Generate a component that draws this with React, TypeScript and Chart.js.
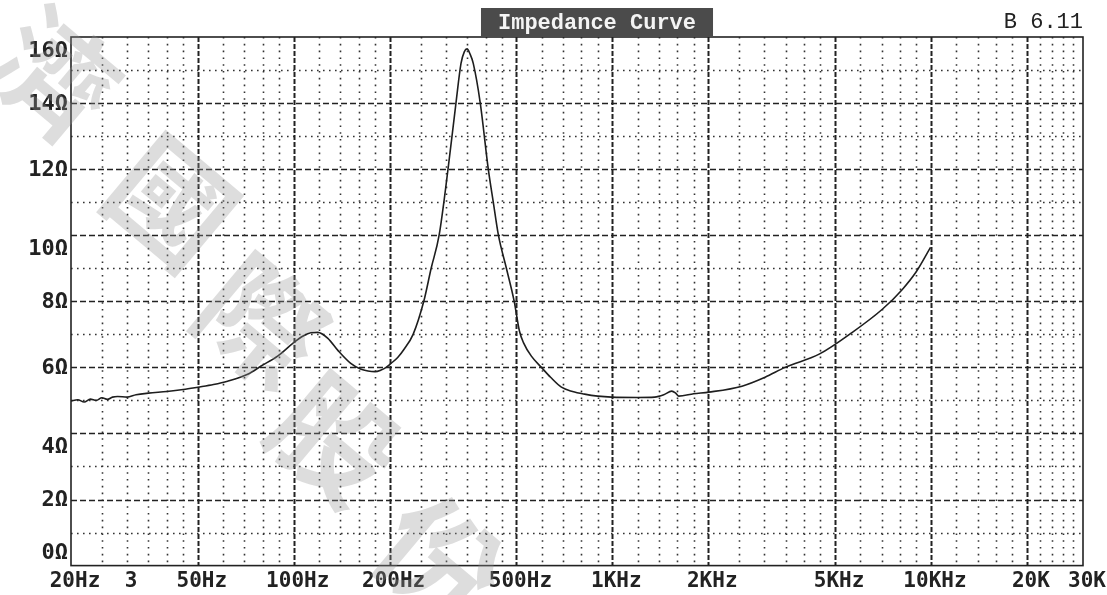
import React, { useEffect, useRef } from "react";
import { Chart, registerables } from "chart.js";
Chart.register(...registerables);

// Measured impedance curve (frequency in Hz, impedance in ohms)
const freqs = [
  20, 21, 22, 23, 24, 25, 26, 27, 28, 30, 32, 35, 40, 45, 50, 56, 62, 72, 79, 89,
  100, 107, 113, 119, 128, 138, 151, 162, 171, 180, 188, 195, 202, 212, 222, 237,
  256, 270, 286, 305, 323, 335, 343, 350, 357, 366, 385, 408, 423, 439, 465, 492,
  511, 526, 557, 599, 640, 692, 750, 818, 900, 994, 1200, 1358, 1450, 1536, 1580,
  1616, 1800, 2009, 2552, 3015, 3485, 4458, 5662, 7036, 8131, 9000, 9966,
];
const impedance = [
  4.98, 5.02, 4.95, 5.04, 5.0, 5.08, 5.03, 5.1, 5.12, 5.1, 5.17, 5.22, 5.27, 5.33, 5.4, 5.48, 5.58, 5.8, 6.04, 6.34,
  6.75, 6.95, 7.05, 7.06, 6.88, 6.5, 6.12, 5.95, 5.89, 5.87, 5.92, 6.0, 6.12, 6.3, 6.55, 7.0,
  8.0, 9.0, 10.0, 12.0, 14.0, 15.2, 15.55, 15.64, 15.5, 15.2, 14.0, 12.0, 11.0, 10.0, 9.0, 8.0,
  7.1, 6.75, 6.34, 6.0, 5.7, 5.4, 5.27, 5.19, 5.13, 5.1, 5.09, 5.1, 5.17, 5.28, 5.22,
  5.13, 5.2, 5.25, 5.43, 5.7, 6.0, 6.4, 7.06, 7.76, 8.36, 8.9, 9.63,
];

const xTickValues = [20, 30, 50, 100, 200, 500, 1000, 2000, 5000, 10000, 20000, 30000];
const xTickLabels = ["20Hz", "3", "50Hz", "100Hz", "200Hz", "500Hz", "1KHz", "2KHz", "5KHz", "10KHz", "20K", "30K"];
const yTickValues = [0, 2, 4, 6, 8, 10, 12, 14, 16];
const yTickLabels = ["0Ω", "2Ω", "4Ω", "6Ω", "8Ω", "10Ω", "12Ω", "14Ω", "16Ω"];
const xMajorGrid = [50, 100, 200, 500, 1000, 2000, 5000, 10000, 20000];
const xMinorGrid = [
  25, 30, 35, 40, 45, 60, 70, 80, 90, 120, 140, 160, 180, 250, 300, 350, 400, 450,
  600, 700, 800, 900, 1200, 1400, 1600, 1800, 2500, 3000, 3500, 4000, 4500,
  6000, 7000, 8000, 9000, 12000, 14000, 16000, 18000, 22000, 24000, 26000, 28000,
];
const yMajorGrid = [2, 4, 6, 8, 10, 12, 14];
const yMinorGrid = [1, 3, 5, 7, 9, 11, 13, 15];

const titleText = "Impedance Curve";
const versionText = "B 6.11";
const watermarkChars = ["濟", "國", "際", "股", "份"];

// text-row placement of the old DOS plot: some labels sit a half row below / above their grid line
const labelsBelow = new Set([16, 10, 4]);
const labelsAbove = new Set([0]);

const gridPlugin = {
  id: "scopeGrid",
  beforeDraw(chart: any) {
    const { ctx } = chart;
    ctx.save();
    ctx.fillStyle = "#ffffff";
    ctx.fillRect(0, 0, chart.width, chart.height);
    ctx.restore();
  },
  beforeDatasetsDraw(chart: any) {
    const { ctx, chartArea: a, scales } = chart;
    const xs = scales.x;
    const ys = scales.y;
    ctx.save();
    const line = (x1: number, y1: number, x2: number, y2: number) => {
      ctx.beginPath();
      ctx.moveTo(x1, y1);
      ctx.lineTo(x2, y2);
      ctx.stroke();
    };
    // minor dotted
    ctx.strokeStyle = "#333";
    ctx.lineWidth = 1.6;
    ctx.setLineDash([1.6, 5.2]);
    xMinorGrid.forEach((f) => {
      const x = Math.round(xs.getPixelForValue(f)) + 0.5;
      line(x, a.top, x, a.bottom);
    });
    ctx.setLineDash([1.6, 4.4]);
    yMinorGrid.forEach((v) => {
      const y = Math.round(ys.getPixelForValue(v)) + 0.5;
      line(a.left, y, a.right, y);
    });
    // major dashed
    ctx.strokeStyle = "#222";
    ctx.lineWidth = 1.4;
    ctx.setLineDash([6, 3]);
    yMajorGrid.forEach((v) => {
      const y = Math.round(ys.getPixelForValue(v)) + 0.5;
      line(a.left, y, a.right, y);
    });
    ctx.lineWidth = 2;
    ctx.setLineDash([5, 2]);
    xMajorGrid.forEach((f) => {
      const x = Math.round(xs.getPixelForValue(f)) + 0.5;
      line(x, a.top, x, a.bottom);
    });
    // border
    ctx.setLineDash([]);
    ctx.lineWidth = 1.6;
    ctx.strokeStyle = "#222";
    ctx.strokeRect(a.left, a.top, a.right - a.left, a.bottom - a.top);
    ctx.restore();
  },
  afterDraw(chart: any) {
    const { ctx, chartArea: a } = chart;
    ctx.save();
    // title box
    ctx.font = "bold 22px 'Liberation Mono', monospace";
    const tw = ctx.measureText(titleText).width;
    const cx = (a.left + a.right) / 2 + 20;
    ctx.fillStyle = "#4b4b4b";
    ctx.fillRect(cx - tw / 2 - 17, 8, tw + 34, a.top - 8);
    ctx.fillStyle = "#f4f4f4";
    ctx.textAlign = "center";
    ctx.textBaseline = "middle";
    ctx.fillText(titleText, cx, 23);
    // version
    ctx.font = "22px 'Liberation Mono', monospace";
    ctx.fillStyle = "#222";
    ctx.textAlign = "right";
    ctx.fillText(versionText, a.right, 22);
    // watermark
    ctx.font = "bold 120px 'Noto Sans CJK TC'";
    ctx.fillStyle = "rgba(150,150,150,0.32)";
    ctx.textAlign = "center";
    ctx.textBaseline = "middle";
    const centers = [
      [55, 75],
      [172, 202],
      [262, 322],
      [335, 440],
      [440, 560],
    ];
    watermarkChars.forEach((c, i) => {
      ctx.save();
      ctx.translate(centers[i][0], centers[i][1]);
      ctx.rotate((40 * Math.PI) / 180);
      ctx.fillText(c, 0, 0);
      ctx.restore();
    });
    ctx.restore();
  },
};

export default function App() {
  const ref = useRef<HTMLCanvasElement | null>(null);
  useEffect(() => {
    if (!ref.current) return;
    const data = freqs.map((f, i) => ({ x: f, y: impedance[i] }));
    const labelFont = { family: "'DejaVu Sans Mono', monospace", size: 21, weight: "bold" as const };
    const chart = new Chart(ref.current, {
      type: "line",
      data: {
        datasets: [
          {
            data,
            borderColor: "#1e1e1e",
            borderWidth: 1.6,
            pointRadius: 0,
            fill: false,
            cubicInterpolationMode: "monotone",
          },
        ],
      },
      options: {
        animation: false,
        responsive: false,
        maintainAspectRatio: false,
        layout: { padding: { top: 37, right: 24, left: 0, bottom: 0 } },
        plugins: { legend: { display: false }, title: { display: false }, tooltip: { enabled: false } },
        scales: {
          x: {
            type: "logarithmic",
            min: 20,
            max: 30000,
            grid: { display: false, drawTicks: false },
            border: { display: false },
            afterBuildTicks: (s: any) => {
              s.ticks = xTickValues.map((v) => ({ value: v }));
            },
            afterFit: (s: any) => {
              s.height = 28;
            },
            ticks: {
              autoSkip: false,
              maxRotation: 0,
              minRotation: 0,
              padding: 3,
              labelOffset: 4,
              color: "#222",
              font: labelFont,
              callback: (v: any) => {
                const i = xTickValues.indexOf(Number(v));
                return i >= 0 ? xTickLabels[i] : "";
              },
            },
          },
          y: {
            type: "linear",
            min: 0,
            max: 16,
            grid: { display: false, drawTicks: false },
            border: { display: false },
            afterBuildTicks: (s: any) => {
              s.ticks = yTickValues.map((v) => ({ value: v }));
            },
            afterFit: (s: any) => {
              s.width = 71;
            },
            ticks: {
              padding: 3,
              labelOffset: 1,
              color: "#222",
              font: { ...labelFont, size: 22, lineHeight: 1.2 },
              callback: (v: any) => {
                const n = Number(v);
                const i = yTickValues.indexOf(n);
                const t = i >= 0 ? yTickLabels[i] : "";
                if (labelsBelow.has(n)) return ["", t];
                if (labelsAbove.has(n)) return [t, ""];
                return t;
              },
            },
          },
        },
      },
      plugins: [gridPlugin],
    });
    return () => chart.destroy();
  }, []);
  return (
    <div style={{ position: "fixed", left: 0, top: 0, width: 1107, height: 595, background: "#fff" }}>
      <canvas ref={ref} width={1107} height={595} style={{ display: "block" }} />
    </div>
  );
}
